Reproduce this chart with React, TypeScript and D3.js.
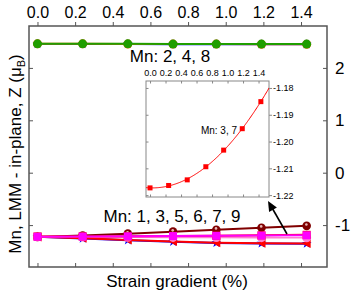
import * as d3 from "d3";
import { useEffect, useRef } from "react";

// strain gradient (%) of each calculation
const strain = [0, 0.24, 0.48, 0.72, 0.95, 1.19, 1.43];

// Mn: 2, 4, 8 (top group)
const mn2 = [2.455, 2.455, 2.455, 2.45, 2.45, 2.45, 2.45];
const mn4 = [2.46, 2.46, 2.455, 2.455, 2.455, 2.45, 2.45];
const mn8 = [2.46, 2.46, 2.46, 2.455, 2.455, 2.455, 2.455];

// Mn: 1, 3, 5, 6, 7, 9 (bottom group)
const mn1 = [-1.225, -1.255, -1.29, -1.32, -1.34, -1.35, -1.355];
const mn5 = [-1.225, -1.25, -1.285, -1.315, -1.335, -1.345, -1.35];
const mn6 = [-1.225, -1.198, -1.163, -1.125, -1.088, -1.05, -1.015];
const mn9 = [-1.225, -1.228, -1.232, -1.235, -1.238, -1.24, -1.242];
const mn3 = [-1.2173, -1.2164, -1.2143, -1.2094, -1.2032, -1.1952, -1.1851];
const mn7 = [-1.222, -1.219, -1.215, -1.21, -1.205, -1.2, -1.195];

const xTicks = [0, 0.2, 0.4, 0.6, 0.8, 1.0, 1.2, 1.4];
const yTicks = [-1, 0, 1, 2];
const insetYTicks = [-1.22, -1.21, -1.2, -1.19, -1.18];

const FONT = "Arial, 'Liberation Sans', sans-serif";

export default function App() {
  const svgRef = useRef<SVGSVGElement | null>(null);

  useEffect(() => {
    const svg = d3.select(svgRef.current);
    svg.selectAll("*").remove();

    const frame = { left: 29, right: 327, top: 26, bottom: 267 };
    const x = d3.scaleLinear().domain([-0.045, 1.538]).range([frame.left, frame.right]);
    const y = d3.scaleLinear().domain([-1.8, 2.8]).range([frame.bottom, frame.top]);

    const line = d3
      .line<number>()
      .x((_, i) => x(strain[i]))
      .y((d) => y(d));

    const drawSeries = (vals: number[], color: string, marker: string, width = 2) => {
      svg
        .append("path")
        .datum(vals)
        .attr("fill", "none")
        .attr("stroke", color)
        .attr("stroke-width", width)
        .attr("d", line);
      const g = svg.append("g");
      vals.forEach((v, i) => {
        const cx = x(strain[i]);
        const cy = y(v);
        if (marker === "circle") {
          g.append("circle").attr("cx", cx).attr("cy", cy).attr("r", 4.5).attr("fill", color);
        } else if (marker === "ball") {
          g.append("circle").attr("cx", cx).attr("cy", cy).attr("r", 4.3).attr("fill", color);
          g.append("circle").attr("cx", cx - 0.3).attr("cy", cy - 1.3).attr("r", 1.3).attr("fill", "#e8b8b8");
        } else if (marker === "square") {
          g.append("rect").attr("x", cx - 4).attr("y", cy - 4).attr("width", 8).attr("height", 8).attr("fill", color);
        } else if (marker === "tri") {
          g.append("path")
            .attr("d", `M${cx - 4.5},${cy}L${cx + 4},${cy - 4.5}L${cx + 4},${cy + 4.5}Z`)
            .attr("fill", color);
        } else if (marker === "star") {
          g.append("path")
            .attr("transform", `translate(${cx},${cy})`)
            .attr("d", d3.symbol(d3.symbolStar, 30)()!)
            .attr("fill", color);
        }
      });
    };

    // top group
    drawSeries(mn2, "#0000ff", "star");
    drawSeries(mn4, "#ff6600", "circle");
    drawSeries(mn8, "#1f9e00", "circle");

    // bottom group
    drawSeries(mn1, "#0000ff", "star");
    drawSeries(mn5, "#ff0000", "tri");
    drawSeries(mn6, "#800000", "ball");
    drawSeries(mn9, "#ff7fd0", "circle", 1.5);
    drawSeries(mn3, "#ff0000", "square");
    drawSeries(mn7, "#ff00ff", "square");

    // frame
    svg
      .append("rect")
      .attr("x", frame.left)
      .attr("y", frame.top)
      .attr("width", frame.right - frame.left)
      .attr("height", frame.bottom - frame.top)
      .attr("fill", "none")
      .attr("stroke", "#555")
      .attr("stroke-width", 1.5);

    // top axis (outward ticks + labels)
    const top = svg.append("g").attr("transform", `translate(0,${frame.top})`)
      .call(d3.axisTop(x).tickValues(xTicks).tickSize(4).tickPadding(4).tickFormat(d3.format(".1f")));
    top.select(".domain").remove();
    top.selectAll("line").attr("stroke", "#555");
    top.selectAll("text").attr("font-size", 16).attr("font-family", FONT).attr("fill", "#000");

    // bottom axis (inward ticks)
    const bottom = svg.append("g").attr("transform", `translate(0,${frame.bottom})`)
      .call(d3.axisBottom(x).tickValues(xTicks).tickSize(-4).tickFormat(() => ""));
    bottom.select(".domain").remove();
    bottom.selectAll("line").attr("stroke", "#555");

    // left axis (inward ticks)
    const left = svg.append("g").attr("transform", `translate(${frame.left},0)`)
      .call(d3.axisLeft(y).tickValues(yTicks).tickSize(-4).tickFormat(() => ""));
    left.select(".domain").remove();
    left.selectAll("line").attr("stroke", "#555");

    // right axis (inward ticks + labels)
    const right = svg.append("g").attr("transform", `translate(${frame.right},0)`)
      .call(d3.axisRight(y).tickValues(yTicks).tickSize(-4).tickPadding(8).tickFormat(d3.format("d")));
    right.select(".domain").remove();
    right.selectAll("line").attr("stroke", "#555");
    right.selectAll("text").attr("font-size", 17).attr("font-family", FONT).attr("fill", "#000")
      .text((d) => String(d).replace("−", "-"));

    // axis titles
    svg
      .append("text")
      .attr("x", 177)
      .attr("y", 287)
      .attr("text-anchor", "middle")
      .attr("font-size", 17)
      .attr("font-family", FONT)
      .text("Strain gradient (%)");

    const yt = svg
      .append("text")
      .attr("transform", "translate(21,154) rotate(-90)")
      .attr("text-anchor", "middle")
      .attr("font-size", 17)
      .attr("font-family", FONT);
    yt.append("tspan").text("Mn, LMM - in-plane, Z (\u03bc");
    yt.append("tspan").attr("font-size", 11).attr("dy", 4).text("B");
    yt.append("tspan").attr("dy", -4).text(")");

    // group labels
    svg.append("text").attr("x", 170).attr("y", 62).attr("text-anchor", "middle")
      .attr("font-size", 17).attr("font-family", FONT).text("Mn: 2, 4, 8");
    svg.append("text").attr("x", 172).attr("y", 222).attr("text-anchor", "middle")
      .attr("font-size", 17).attr("font-family", FONT).text("Mn: 1, 3, 5, 6, 7, 9");

    // arrow pointing to inset
    svg.append("line")
      .attr("x1", 287).attr("y1", 234).attr("x2", 271).attr("y2", 206)
      .attr("stroke", "#000").attr("stroke-width", 1.6);
    const ang = Math.atan2(201 - 234, 268 - 287);
    const hx = 268, hy = 201, hl = 10, hw = 4.5;
    const bx = hx - hl * Math.cos(ang), by = hy - hl * Math.sin(ang);
    svg.append("path")
      .attr("d", `M${hx},${hy}L${bx + hw * Math.sin(ang)},${by - hw * Math.cos(ang)}L${bx - hw * Math.sin(ang)},${by + hw * Math.cos(ang)}Z`)
      .attr("fill", "#000");

    // ---------- inset: Mn 3, 7 ----------
    const inset = { left: 146, right: 269, top: 81, bottom: 197 };
    const ix = d3.scaleLinear().domain([-0.052, 1.535]).range([inset.left, inset.right]);
    const iy = d3.scaleLinear().domain([-1.2207, -1.1774]).range([inset.bottom, inset.top]);

    svg.append("rect")
      .attr("x", inset.left).attr("y", inset.top)
      .attr("width", inset.right - inset.left).attr("height", inset.bottom - inset.top)
      .attr("fill", "#fff").attr("stroke", "#888").attr("stroke-width", 1);

    // quadratic least-squares fit of the inset points
    const n = strain.length;
    const s = (p: number, q = 0) => d3.sum(strain, (t, i) => Math.pow(t, p) * (q ? mn3[i] : 1));
    const A = [
      [n, s(1), s(2)],
      [s(1), s(2), s(3)],
      [s(2), s(3), s(4)],
    ];
    const B = [s(0, 1), s(1, 1), s(2, 1)];
    const det3 = (m: number[][]) =>
      m[0][0] * (m[1][1] * m[2][2] - m[1][2] * m[2][1]) -
      m[0][1] * (m[1][0] * m[2][2] - m[1][2] * m[2][0]) +
      m[0][2] * (m[1][0] * m[2][1] - m[1][1] * m[2][0]);
    const D = det3(A);
    const coef = [0, 1, 2].map((k) => det3(A.map((row, r) => row.map((v, c) => (c === k ? B[r] : v)))) / D);
    const fit = (t: number) => coef[0] + coef[1] * t + coef[2] * t * t;

    svg.append("clipPath").attr("id", "insetClip").append("rect")
      .attr("x", inset.left).attr("y", inset.top)
      .attr("width", inset.right - inset.left).attr("height", inset.bottom - inset.top);

    const fitX = d3.range(ix.domain()[0], ix.domain()[1] + 0.01, 0.01);
    svg.append("path")
      .datum(fitX)
      .attr("clip-path", "url(#insetClip)")
      .attr("fill", "none")
      .attr("stroke", "#ff0000")
      .attr("stroke-width", 1)
      .attr("d", d3.line<number>().x((t) => ix(t)).y((t) => iy(fit(t))));

    svg.append("g").selectAll("rect").data(mn3).join("rect")
      .attr("x", (_, i) => ix(strain[i]) - 2.5)
      .attr("y", (d) => iy(d) - 2.5)
      .attr("width", 5).attr("height", 5)
      .attr("fill", "#ff0000");

    const iTop = svg.append("g").attr("transform", `translate(0,${inset.top})`)
      .call(d3.axisTop(ix).tickValues(xTicks).tickSize(-2.5).tickPadding(5).tickFormat(d3.format(".1f")));
    iTop.select(".domain").remove();
    iTop.selectAll("line").attr("stroke", "#888");
    iTop.selectAll("text").attr("font-size", 9).attr("font-family", FONT).attr("fill", "#000");

    const iBottom = svg.append("g").attr("transform", `translate(0,${inset.bottom})`)
      .call(d3.axisBottom(ix).tickValues(xTicks).tickSize(-2.5).tickFormat(() => ""));
    iBottom.select(".domain").remove();
    iBottom.selectAll("line").attr("stroke", "#888");

    const iLeft = svg.append("g").attr("transform", `translate(${inset.left},0)`)
      .call(d3.axisLeft(iy).tickValues(insetYTicks).tickSize(-2.5).tickFormat(() => ""));
    iLeft.select(".domain").remove();
    iLeft.selectAll("line").attr("stroke", "#888");

    const iRight = svg.append("g").attr("transform", `translate(${inset.right},0)`)
      .call(d3.axisRight(iy).tickValues(insetYTicks).tickSize(3).tickPadding(1).tickFormat(d3.format(".2f")));
    iRight.select(".domain").remove();
    iRight.selectAll("line").attr("stroke", "#888");
    iRight.selectAll("text").attr("font-size", 9).attr("font-family", FONT).attr("fill", "#000")
      .text((d) => d3.format(".2f")(d as number).replace("−", "-"));

    svg.append("text").attr("x", 219).attr("y", 134).attr("text-anchor", "middle")
      .attr("font-size", 10).attr("font-family", FONT).text("Mn: 3, 7");
  }, []);

  return (
    <svg
      ref={svgRef}
      width={354}
      height={299}
      style={{ position: "absolute", left: 0, top: 0, background: "#fff" }}
    ></svg>
  );
}
